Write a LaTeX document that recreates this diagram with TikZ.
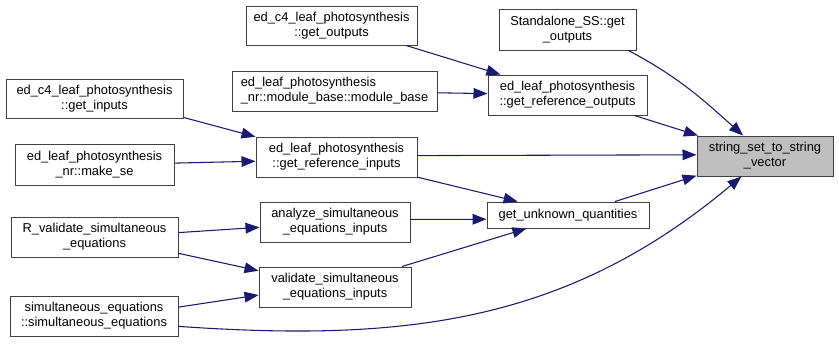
\documentclass[tikz,border=0pt]{standalone}
\usepackage{fontspec}
\setmainfont{Liberation Sans}
\usetikzlibrary{arrows.meta}
\definecolor{edgeblue}{HTML}{191970}
\definecolor{focusgray}{HTML}{BFBFBF}
\begin{document}
\begin{tikzpicture}[x=0.75pt,y=-0.75pt,
  fn/.style={draw=black!75, line width=0.75pt, fill=white, inner sep=0pt,
    align=center, font=\fontsize{9.65}{11.3}\selectfont},
  call/.style={draw=edgeblue, line width=0.8pt,
    -{Triangle[length=10.5pt,width=8pt,fill=edgeblue]}}]
\useasboundingbox (0,0) rectangle (839,343);

% column of callers on the left
\node[fn, minimum width=132.75pt, minimum height=29.25pt] (gin) at (94.5,98.5)
  {ed\_c4\_leaf\_photosynthesis\\::get\_inputs};
\node[fn, minimum width=119.25pt, minimum height=30.75pt] (mse) at (94.5,164.5)
  {ed\_leaf\_photosynthesis\\\_nr::make\_se};
\node[fn, minimum width=125.25pt, minimum height=30pt] (rv) at (94.5,237)
  {R\_validate\_simultaneous\\\_equations};
\node[fn, minimum width=126pt, minimum height=30pt] (sim) at (94,316)
  {simultaneous\_equations\\::simultaneous\_equations};

% middle column
\node[fn, minimum width=128.25pt, minimum height=29.25pt] (gout) at (331.5,25.5)
  {ed\_c4\_leaf\_photosynthesis\\::get\_outputs};
\node[fn, align=left, minimum width=153.75pt, minimum height=30pt] (mb) at (334.5,91)
  {ed\_leaf\_photosynthesis\\\_nr::module\_base::module\_base};
\node[fn, minimum width=120.75pt, minimum height=30pt] (gri) at (336.5,157)
  {ed\_leaf\_photosynthesis\\::get\_reference\_inputs};
\node[fn, minimum width=112.5pt, minimum height=30pt] (ana) at (335,222)
  {analyze\_simultaneous\\\_equations\_inputs};
\node[fn, minimum width=114pt, minimum height=30pt] (val) at (335,287)
  {validate\_simultaneous\\\_equations\_inputs};

% right-middle column
\node[fn, minimum width=102.75pt, minimum height=30.75pt] (sss) at (567.5,29.5)
  {Standalone\_SS::get\\\_outputs};
\node[fn, minimum width=119.25pt, minimum height=30pt] (gro) at (567.5,95)
  {ed\_leaf\_photosynthesis\\::get\_reference\_outputs};
\node[fn, minimum width=121.5pt, minimum height=19.5pt] (guq) at (568,215)
  {get\_unknown\_quantities};

% the function being called
\node[fn, fill=focusgray, minimum width=102pt, minimum height=30pt] (tgt) at (765,156)
  {string\_set\_to\_string\\\_vector};

% call edges
\draw[call] (gout.-15.3) -- (gro.163.5);
\draw[call] (mb.-1.1) -- (gro.179.3);
\draw[call] (sss.-19) to[out=-28,in=138] (tgt.137.7);
\draw[call] (gro.-17) -- (tgt.163.7);
\draw[call] (gin.-12.6) -- (gri.166.6);
\draw[call] (mse.1.8) -- (gri.-177.9);
\draw[call] (gri.1.4) -- (tgt.179.2);
\draw[call] (gri.-14.8) -- (guq.165.7);
\draw[call] (ana.2.3) -- (guq.-177.9);
\draw[call] (val.17.1) -- (guq.-162.4);
\draw[call] (guq.16.5) -- (tgt.-164.2);
\draw[call] (rv.3.4) -- (ana.-176.2);
\draw[call] (rv.-11.5) -- (val.168.1);
\draw[call] (sim.6.8) -- (val.-174);
\draw[call] (sim.-7.5) to[out=-4,in=-140] (tgt.-139);
\end{tikzpicture}
\end{document}
